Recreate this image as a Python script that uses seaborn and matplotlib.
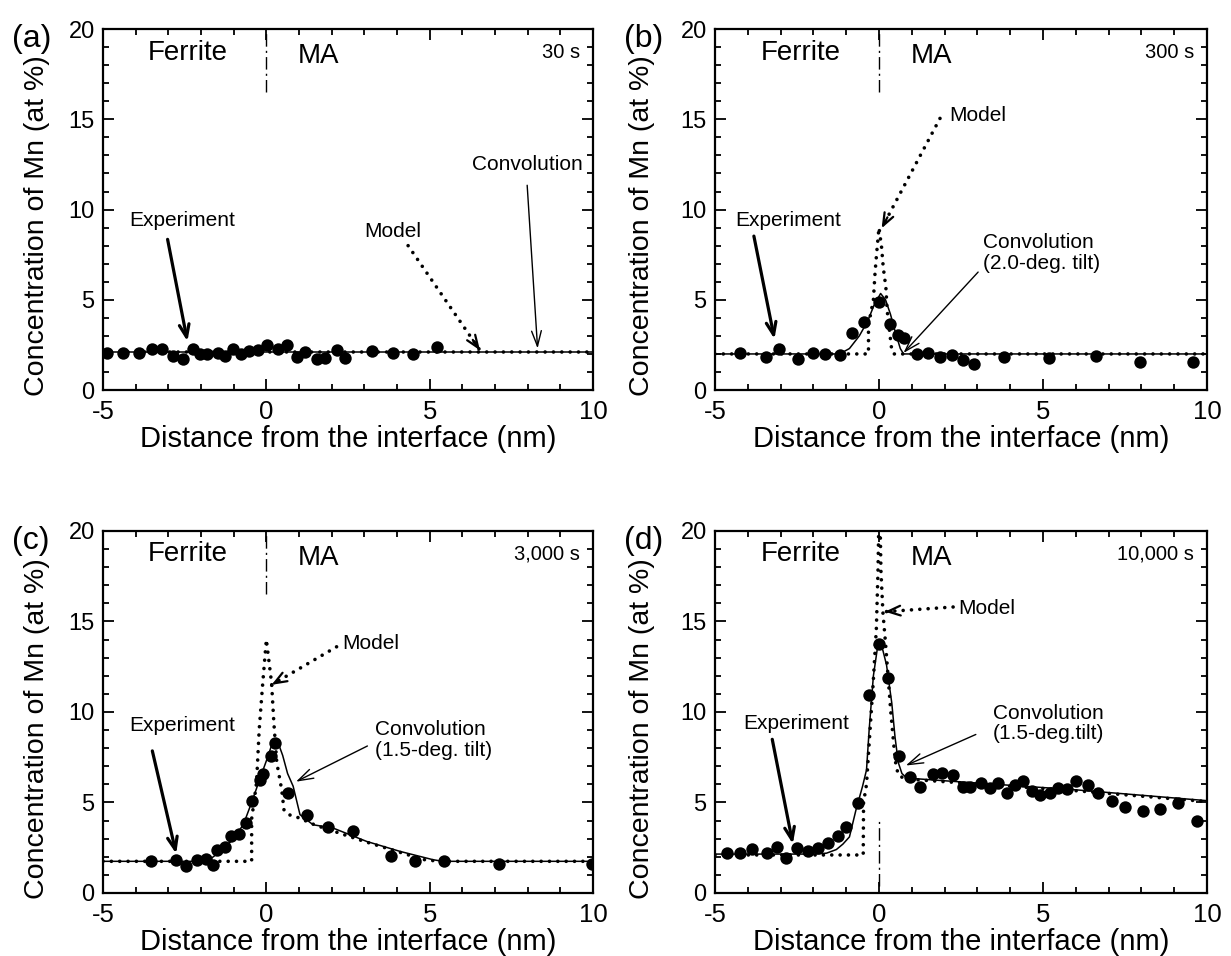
import matplotlib
matplotlib.use("Agg")
import matplotlib.pyplot as plt
from matplotlib.ticker import MultipleLocator
import seaborn as sns

# (a) 30 s
a_exp_x = [-4.89, -4.40, -3.89, -3.51, -3.20, -2.87, -2.54, -2.24, -2.03, -1.81, -1.47, -1.27, -1.01,
           -0.79, -0.52, -0.25, 0.03, 0.37, 0.62, 0.93, 1.18, 1.54, 1.80, 2.15, 2.41, 3.22, 3.89, 4.48, 5.21]
a_exp_y = [2.08, 2.05, 2.05, 2.25, 2.25, 1.90, 1.70, 2.30, 2.00, 2.00, 2.05, 1.90, 2.25,
           1.98, 2.15, 2.20, 2.47, 2.30, 2.50, 1.85, 2.10, 1.70, 1.80, 2.20, 1.75, 2.15, 2.03, 2.00, 2.36]
a_conv_x = [-5, 10]
a_conv_y = [2.1, 2.1]
a_model_x = [-5, 10]
a_model_y = [2.1, 2.1]

# (b) 300 s
b_exp_x = [-4.24, -3.45, -3.04, -2.48, -2.02, -1.65, -1.19, -0.83, -0.46, 0.01, 0.34, 0.59, 0.77,
           1.17, 1.50, 1.86, 2.22, 2.55, 2.90, 3.81, 5.19, 6.61, 7.96, 9.58]
b_exp_y = [2.07, 1.81, 2.25, 1.72, 2.07, 2.00, 1.94, 3.14, 3.75, 4.89, 3.64, 3.05, 2.86,
           1.98, 2.07, 1.81, 1.94, 1.66, 1.44, 1.85, 1.76, 1.88, 1.57, 1.57]
b_conv_x = [-5, -1.2, -0.9, -0.6, -0.35, -0.15, 0.05, 0.2, 0.35, 0.5, 0.65, 0.75, 10]
b_conv_y = [2.0, 2.0, 2.3, 3.0, 3.8, 4.7, 5.35, 5.0, 4.2, 3.2, 2.3, 2.0, 2.0]
b_model_x = [-5, -0.32, -0.32, -0.17, -0.12, -0.07, 0.0, 0.08, 0.13, 0.21, 0.25, 0.39, 0.45, 10]
b_model_y = [2.0, 2.0, 3.6, 5.0, 6.5, 7.6, 9.0, 7.9, 6.8, 5.7, 4.4, 2.2, 2.0, 2.0]

# (c) 3,000 s
c_exp_x = [-3.53, -2.77, -2.46, -2.13, -1.85, -1.62, -1.50, -1.27, -1.09, -0.83, -0.62, -0.45,
           -0.19, -0.10, 0.13, 0.26, 0.67, 1.23, 1.90, 2.66, 3.81, 4.55, 5.44, 7.12, 9.96]
c_exp_y = [1.75, 1.84, 1.51, 1.84, 1.88, 1.56, 2.39, 2.54, 3.17, 3.28, 3.87, 5.06,
           6.25, 6.55, 7.59, 8.28, 5.52, 4.33, 3.63, 3.41, 2.06, 1.78, 1.78, 1.62, 1.62]
c_conv_x = [-5, -2.0, -1.7, -1.4, -1.0, -0.7, -0.45, -0.2, 0.0, 0.15, 0.32, 0.5, 0.65, 0.82,
            1.03, 1.43, 2.04, 3.07, 4.09, 5.1, 5.4, 10]
c_conv_y = [1.75, 1.75, 1.9, 2.3, 3.0, 3.8, 5.0, 6.3, 7.3, 8.1, 8.5, 7.6, 6.6, 5.9,
            4.33, 3.77, 3.59, 2.85, 2.3, 1.84, 1.75, 1.75]
c_model_x = [-5, -0.45, -0.45, -0.38, -0.3, -0.22, -0.11, 0.0, 0.06, 0.16, 0.23, 0.32, 0.47, 0.54,
             0.65, 1.0, 1.5, 2.0, 3.0, 4.0, 4.8, 5.3, 10]
c_model_y = [1.75, 1.75, 4.1, 5.0, 6.1, 9.0, 11.6, 14.0, 13.1, 11.6, 9.4, 7.2, 5.7, 4.6,
             4.35, 4.15, 3.75, 3.45, 2.85, 2.3, 1.85, 1.75, 1.75]

# (d) 10,000 s
d_exp_x = [-4.62, -4.24, -3.88, -3.41, -3.12, -2.84, -2.51, -2.16, -1.85, -1.55, -1.24, -1.01, -0.63,
           -0.30, 0.01, 0.28, 0.62, 0.95, 1.25, 1.64, 1.91, 2.27, 2.55, 2.77, 3.10, 3.38, 3.64, 3.89,
           4.15, 4.40, 4.66, 4.91, 5.21, 5.47, 5.72, 6.01, 6.38, 6.69, 7.09, 7.50, 8.06, 8.57, 9.12, 9.70]
d_exp_y = [2.19, 2.23, 2.41, 2.19, 2.56, 1.95, 2.50, 2.32, 2.47, 2.78, 3.17, 3.63, 4.99,
           10.94, 13.76, 11.86, 7.57, 6.43, 5.87, 6.57, 6.61, 6.52, 5.87, 5.84, 6.09, 5.78, 6.06, 5.51,
           5.97, 6.20, 5.65, 5.41, 5.54, 5.78, 5.73, 6.20, 5.97, 5.54, 5.10, 4.77, 4.53, 4.64, 4.99, 3.99]
d_conv_x = [-5, -2.0, -1.6, -1.3, -1.1, -0.9, -0.7, -0.5, -0.38, -0.3, -0.17, -0.05, 0.03, 0.12,
            0.23, 0.39, 0.49, 0.59, 0.7, 0.85, 2, 4, 6, 8, 10]
d_conv_y = [2.15, 2.15, 2.2, 2.4, 2.7, 3.1, 4.6, 5.9, 6.8, 9.0, 12.0, 13.5, 13.75, 13.4,
            12.6, 10.5, 8.6, 7.2, 6.6, 6.35, 6.2, 5.95, 5.7, 5.4, 5.1]
d_model_x = [-5, -0.48, -0.47, -0.38, -0.28, -0.18, -0.08, -0.03, 0.0, 0.03, 0.06, 0.12, 0.2,
             0.28, 0.36, 0.45, 0.52, 0.6, 0.8, 2, 4, 6, 8, 10]
d_model_y = [2.1, 2.1, 5.0, 6.0, 8.8, 11.5, 14.6, 17.8, 21, 21, 17.8, 15.5, 13.8,
             11.9, 10.0, 8.2, 7.0, 6.5, 6.3, 6.15, 5.9, 5.65, 5.35, 5.05]

times = ["30 s", "300 s", "3,000 s", "10,000 s"]
panel_tags = ["(a)", "(b)", "(c)", "(d)"]
conv_labels = ["Convolution", "Convolution\n(2.0-deg. tilt)",
               "Convolution\n(1.5-deg. tilt)", "Convolution\n(1.5-deg.tilt)"]

sns.set_style("ticks")
plt.rcParams["font.family"] = ["Liberation Sans", "DejaVu Sans"]
plt.rcParams["text.color"] = "black"
plt.rcParams["axes.labelcolor"] = "black"
plt.rcParams["xtick.color"] = "black"
plt.rcParams["ytick.color"] = "black"
plt.rcParams["axes.unicode_minus"] = False

DOTS = (0, (0.01, 2.3))

fig = plt.figure(figsize=(12.31, 9.56), dpi=100)
boxes = [(0.0837, 0.592, 0.398, 0.3776), (0.5808, 0.592, 0.3997, 0.3776),
         (0.0837, 0.0659, 0.398, 0.3787), (0.5808, 0.0659, 0.3997, 0.3787)]


def arrow(ax, tail, head, style):
    if style == "exp":
        ax.annotate("", xy=head, xytext=tail,
                    arrowprops=dict(arrowstyle="->,head_length=0.9,head_width=0.35", lw=2.3, color="black"))
    elif style == "conv":
        ax.annotate("", xy=head, xytext=tail,
                    arrowprops=dict(arrowstyle="->,head_length=1.1,head_width=0.35", lw=1.0, color="black"))
    else:
        ax.annotate("", xy=head, xytext=tail,
                    arrowprops=dict(arrowstyle="-", lw=2.6, ls=DOTS, color="black",
                                    capstyle="round", shrinkA=0, shrinkB=0))
        mid = (head[0] + (tail[0] - head[0]) * 0.1, head[1] + (tail[1] - head[1]) * 0.1)
        ax.annotate("", xy=head, xytext=mid,
                    arrowprops=dict(arrowstyle="->,head_length=0.9,head_width=0.35", lw=1.6,
                                    color="black", shrinkA=0, shrinkB=0))


def draw_panel(i, ex, ey, cx, cy, mx, my):
    ax = fig.add_axes(boxes[i])
    sns.lineplot(x=cx, y=cy, ax=ax, color="black", lw=1.1, estimator=None, sort=False)
    sns.lineplot(x=mx, y=my, ax=ax, color="black", lw=2.6, estimator=None, sort=False,
                 linestyle=DOTS, dash_capstyle="round")
    sns.scatterplot(x=ex, y=ey, ax=ax, color="black", s=80, linewidth=0, zorder=3)
    ax.set_xlim(-5, 10)
    ax.set_ylim(0, 20)
    ax.xaxis.set_major_locator(MultipleLocator(5))
    ax.xaxis.set_minor_locator(MultipleLocator(1))
    ax.yaxis.set_major_locator(MultipleLocator(5))
    ax.yaxis.set_minor_locator(MultipleLocator(1))
    ax.tick_params(which="both", direction="in", top=True, right=True, width=1.3, color="black")
    ax.tick_params(which="major", length=8)
    ax.tick_params(which="minor", length=4)
    ax.tick_params(axis="x", labelsize=18.5, pad=7)
    ax.tick_params(axis="y", labelsize=17, pad=6)
    for s in ax.spines.values():
        s.set_linewidth(1.6)
        s.set_color("black")
    ax.set_xlabel("Distance from the interface (nm)", fontsize=21)
    ax.set_ylabel("Concentration of Mn (at %)", fontsize=20.5)
    ax.xaxis.set_label_coords(0.5, -0.098)
    ax.yaxis.set_label_coords(-0.122 if i % 2 else -0.108, 0.455)
    ax.text(-2.4, 18.7, "Ferrite", fontsize=20, ha="center", va="center")
    ax.text(1.6, 18.5, "MA", fontsize=20, ha="center", va="center")
    ax.text(9.6, 18.7, times[i], fontsize=14.5, ha="right", va="center")
    if i == 3:
        ax.axvline(0, ymin=0.02, ymax=0.2, color="black", lw=1, ls=(0, (9, 3, 1.5, 3)))
    else:
        ax.axvline(0, ymin=0.825, ymax=0.99, color="black", lw=1, ls=(0, (9, 3, 1.5, 3)))
    fig.text(boxes[i][0] - 0.074, boxes[i][1] + boxes[i][3] - 0.01, panel_tags[i],
             fontsize=23, ha="left", va="center")
    return ax


ax = draw_panel(0, a_exp_x, a_exp_y, a_conv_x, a_conv_y, a_model_x, a_model_y)
ax.text(-4.2, 9.4, "Experiment", fontsize=15, ha="left", va="center")
arrow(ax, (-3.04, 8.5), (-2.40, 2.55), "exp")
ax.text(3.0, 8.8, "Model", fontsize=15, ha="left", va="center")
arrow(ax, (4.34, 8.0), (6.54, 2.2), "model")
ax.text(6.3, 12.5, conv_labels[0], fontsize=15, ha="left", va="center")
arrow(ax, (7.98, 11.5), (8.31, 2.15), "conv")

ax = draw_panel(1, b_exp_x, b_exp_y, b_conv_x, b_conv_y, b_model_x, b_model_y)
ax.text(-4.39, 9.42, "Experiment", fontsize=15, ha="left", va="center")
arrow(ax, (-3.83, 8.68), (-3.17, 2.68), "exp")
ax.text(2.13, 15.2, "Model", fontsize=15, ha="left", va="center")
arrow(ax, (1.86, 15.05), (0.08, 8.96), "model")
ax.text(3.17, 7.6, conv_labels[1], fontsize=15, ha="left", va="center", linespacing=1.1)
arrow(ax, (3.08, 6.65), (0.69, 1.94), "conv")

ax = draw_panel(2, c_exp_x, c_exp_y, c_conv_x, c_conv_y, c_model_x, c_model_y)
ax.text(-4.2, 9.25, "Experiment", fontsize=15, ha="left", va="center")
arrow(ax, (-3.51, 8.0), (-2.74, 2.02), "exp")
ax.text(2.32, 13.8, "Model", fontsize=15, ha="left", va="center")
arrow(ax, (2.15, 13.6), (0.16, 11.5), "model")
ax.text(3.33, 8.45, conv_labels[2], fontsize=15, ha="left", va="center", linespacing=1.1)
arrow(ax, (3.17, 8.19), (0.83, 6.08), "conv")

ax = draw_panel(3, d_exp_x, d_exp_y, d_conv_x, d_conv_y, d_model_x, d_model_y)
ax.text(-4.15, 9.34, "Experiment", fontsize=15, ha="left", va="center")
arrow(ax, (-3.27, 8.64), (-2.61, 2.56), "exp")
ax.text(2.41, 15.7, "Model", fontsize=15, ha="left", va="center")
arrow(ax, (2.26, 15.8), (0.18, 15.54), "model")
ax.text(3.48, 9.35, conv_labels[3], fontsize=15, ha="left", va="center", linespacing=1.1)
arrow(ax, (3.03, 8.82), (0.74, 6.98), "conv")

fig.savefig("out.png", dpi=100)
